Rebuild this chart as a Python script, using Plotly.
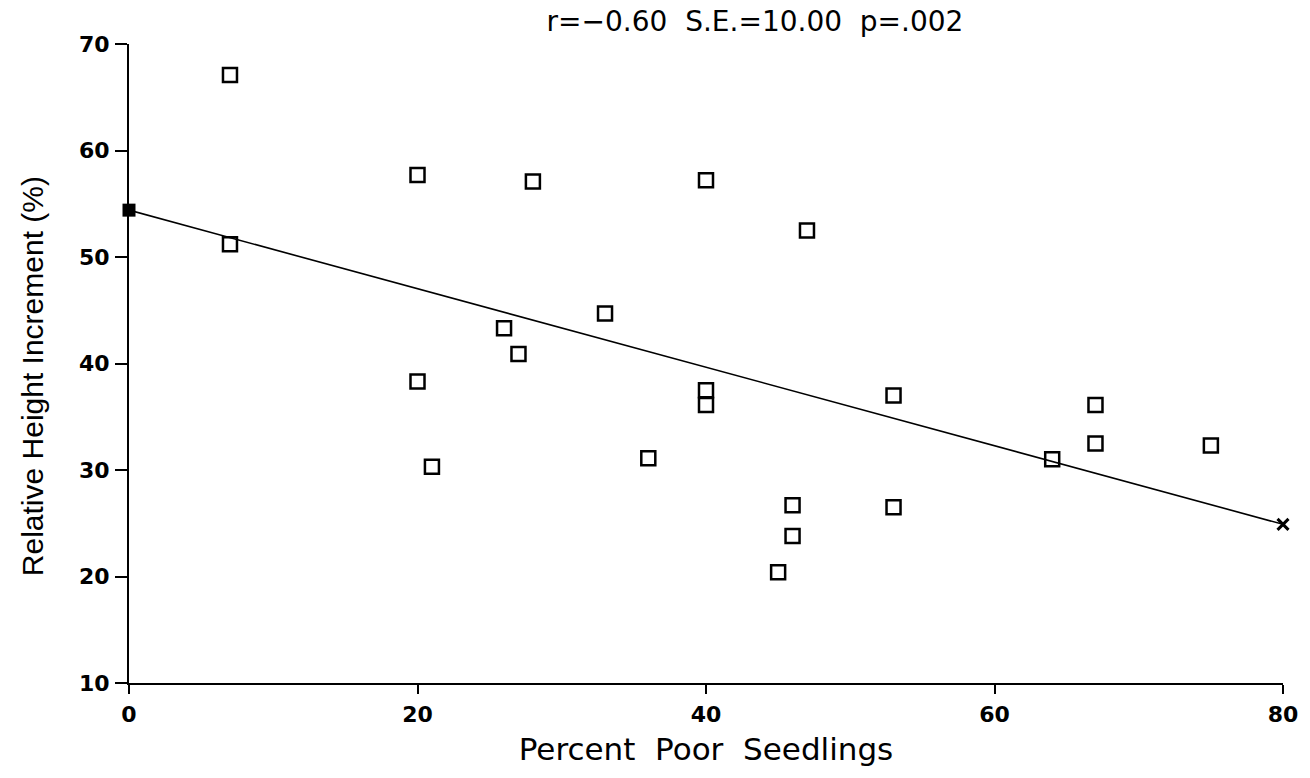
import plotly.graph_objects as go

# Data
percent_poor = [7, 7, 20, 28, 40, 47, 33, 26, 27, 20, 40, 40, 53, 67, 67, 75, 64, 36, 21, 46, 46, 45, 53]
height_incr = [67.1, 51.2, 57.7, 57.1, 57.2, 52.5, 44.7, 43.3, 40.9, 38.3, 37.5, 36.1, 37.0, 36.1, 32.5, 32.3, 31.0, 31.1, 30.3, 26.7, 23.8, 20.4, 26.5]

fit_x = [0, 80]
fit_y = [54.4, 24.9]

x_ticks = [0, 20, 40, 60, 80]
y_ticks = [10, 20, 30, 40, 50, 60, 70]

title_text = "r=\u22120.60  S.E.=10.00  p=.002"
x_title = "Percent  Poor  Seedlings"
y_title = "Relative Height Increment (%)"

fig = go.Figure()

fig.add_trace(go.Scatter(
    x=fit_x, y=fit_y, mode="lines",
    line=dict(color="black", width=1.6),
    showlegend=False, hoverinfo="skip", cliponaxis=False,
))
fig.add_trace(go.Scatter(
    x=fit_x[:1], y=fit_y[:1], mode="markers",
    marker=dict(symbol="square", size=13, color="black"),
    showlegend=False, cliponaxis=False,
))
fig.add_trace(go.Scatter(
    x=fit_x[1:], y=fit_y[1:], mode="markers",
    marker=dict(symbol="x-thin", size=11, color="black", line=dict(color="black", width=3)),
    showlegend=False, cliponaxis=False,
))
fig.add_trace(go.Scatter(
    x=percent_poor, y=height_incr, mode="markers",
    marker=dict(symbol="square-open", size=14, color="black", line=dict(color="black", width=2.5)),
    showlegend=False, cliponaxis=False,
))

tick_font = dict(family="DejaVu Sans", size=22, color="black", weight="bold")

fig.update_layout(
    width=1310, height=778,
    margin=dict(l=129, r=23, t=44, b=95),
    paper_bgcolor="white", plot_bgcolor="white",
    title=dict(text=title_text, x=755/1310, xanchor="center", xref="container",
               y=1 - 21/778, yanchor="middle", yref="container",
               font=dict(family="DejaVu Sans", size=28, color="black")),
    xaxis=dict(
        range=[0, 80], tickvals=x_ticks, ticktext=[str(v) for v in x_ticks],
        showgrid=False, zeroline=False, showline=True, linecolor="black", linewidth=2,
        ticks="outside", ticklen=9, tickwidth=2, tickcolor="black",
        tickfont=tick_font, ticklabelstandoff=2,
        title=dict(text=x_title,
                   font=dict(family="DejaVu Sans", size=31, color="black"), standoff=12),
    ),
    yaxis=dict(
        range=[10, 70], tickvals=y_ticks, ticktext=[str(v) for v in y_ticks],
        showgrid=False, zeroline=False, showline=True, linecolor="black", linewidth=2,
        ticks="outside", ticklen=12, tickwidth=2, tickcolor="black",
        tickfont=tick_font, ticklabelstandoff=1,
    ),
    annotations=[dict(
        text=y_title, textangle=-90, showarrow=False,
        xref="paper", yref="paper", x=(33 - 129) / 1158, y=(683.3 - 376) / 639.3,
        xanchor="center", yanchor="middle",
        font=dict(family="Liberation Sans", size=30, color="black"),
    )],
)

fig.write_html("out.html")
